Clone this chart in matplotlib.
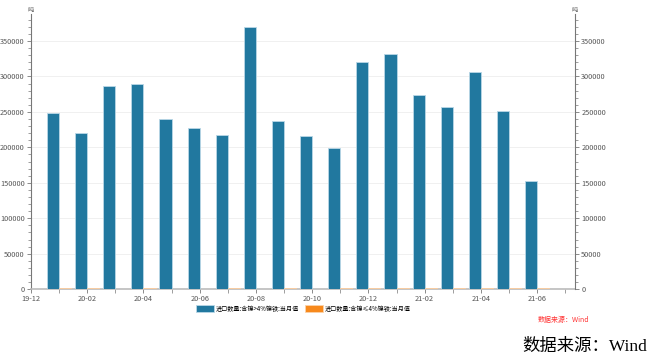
import matplotlib
matplotlib.use("Agg")
import matplotlib.pyplot as plt
from matplotlib.ticker import MultipleLocator
import numpy as np

plt.rcParams['font.family'] = ['Noto Sans CJK SC', 'DejaVu Sans']

# monthly data, 20-01 .. 21-06
months = ['20-01', '20-02', '20-03', '20-04', '20-05', '20-06', '20-07', '20-08', '20-09',
          '20-10', '20-11', '20-12', '21-01', '21-02', '21-03', '21-04', '21-05', '21-06']
high_ni = [248000, 220000, 287000, 290000, 240000, 227000, 217000, 370000, 237000,
           216000, 199000, 320000, 332000, 274000, 257000, 306000, 251000, 152000]
low_ni = [1200, 1000, 0, 1100, 0, 0, 1200, 0, 1000,
          0, 1300, 1500, 1200, 1400, 1100, 1300, 1200, 1500]
tick_labels = ['19-12', '20-02', '20-04', '20-06', '20-08', '20-10', '20-12', '21-02', '21-04', '21-06']

names = ['进口数量:含镍>4%镍铁:当月值', '进口数量:含镍≤4%镍铁:当月值']
blue = '#21789f'
orange = '#f7891c'
axis_gray = '#777777'
text_gray = '#555555'

fig = plt.figure(figsize=(6.52, 3.61), dpi=100)
ax = fig.add_axes([0.0475, 0.199, 0.8345, 0.762])

x = np.arange(1, len(months) + 1)
w = 0.43
ax.bar(x - w / 2, high_ni, w, color=blue, edgecolor='#b9d7e6', linewidth=0.6, label=names[0], zorder=3)
ax.bar(x + w / 2, low_ni, w, color=orange, edgecolor='#fbd3ab', linewidth=0.6, label=names[1], zorder=3)

ax.set_xlim(0, 19.35)
ax.set_ylim(0, 388000)
ax.yaxis.set_major_locator(MultipleLocator(50000))
ax.yaxis.set_minor_locator(MultipleLocator(10000))
ax.set_xticks(np.arange(0, 19, 2))
ax.set_xticklabels(tick_labels)
ax.set_xticks(np.arange(0, 20), minor=True)
ax.grid(axis='y', color='#eeeeee', linewidth=0.6, zorder=0)

for s in ['top', 'right']:
    ax.spines[s].set_visible(False)
ax.spines['left'].set_color(axis_gray)
ax.spines['bottom'].set_color('#bbbbbb')
ax.spines['bottom'].set_linewidth(1.2)
ax.tick_params(axis='both', which='major', labelsize=5.3, colors=axis_gray, labelcolor=text_gray,
               length=3, width=0.6, pad=1.5)
ax.tick_params(axis='both', which='minor', colors=axis_gray, length=2, width=0.5)
ax.tick_params(axis='x', which='minor', length=3)

ax2 = ax.twinx()
ax2.set_ylim(ax.get_ylim())
ax2.yaxis.set_major_locator(MultipleLocator(50000))
ax2.yaxis.set_minor_locator(MultipleLocator(10000))
for s in ['top', 'left', 'bottom']:
    ax2.spines[s].set_visible(False)
ax2.spines['right'].set_color(axis_gray)
ax2.tick_params(axis='y', which='major', labelsize=5.3, colors=axis_gray, labelcolor=text_gray,
                length=3, width=0.6, pad=1.5)
ax2.tick_params(axis='y', which='minor', colors=axis_gray, length=2, width=0.5)

# unit marks at top of both axes
ax.text(0, 1.0, '吨', transform=ax.transAxes, fontsize=4.5, color=text_gray, ha='center', va='bottom')
ax.text(1, 1.0, '吨', transform=ax.transAxes, fontsize=4.5, color=text_gray, ha='center', va='bottom')

fig.legend(loc='center', bbox_to_anchor=(0.465, 0.145), ncol=2, frameon=False, fontsize=4.4,
           handlelength=2.9, handleheight=1.5, handletextpad=0.3, columnspacing=1.0)

fig.text(0.864, 0.113, '数据来源：Wind', color='#ff3333', fontsize=5.0, style='italic', ha='center', va='center')
fig.text(0.993, 0.04, '数据来源：Wind', color='black', fontsize=12.5, ha='right', va='center',
         family=['Liberation Serif', 'Noto Sans CJK SC'])

fig.savefig('out.png', dpi=100)
